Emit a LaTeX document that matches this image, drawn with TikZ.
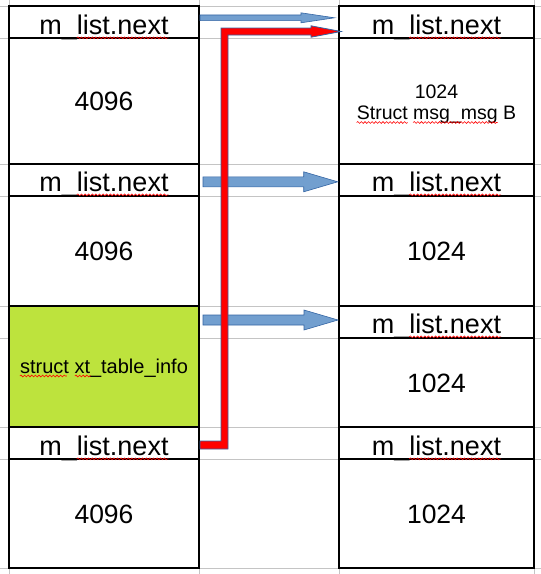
\documentclass[tikz,border=0pt]{standalone}
\usepackage{fontspec}
\setmainfont{Liberation Sans}
\usetikzlibrary{calc,decorations.pathmorphing}
\definecolor{gridgray}{RGB}{196,196,196}
\definecolor{limegreen}{RGB}{189,227,61}
\definecolor{afill}{RGB}{114,159,207}
\definecolor{aline}{RGB}{52,101,164}
\newcommand\blkarrow[5]{%
  \draw[barrow] let \p1=(#1), \p2=(#2) in
    (\x1,\y2+#3) -- (\x2-#5,\y2+#3) -- (\x2-#5,\y2+#4) -- (\x2,\y2)
    -- (\x2-#5,\y2-#4) -- (\x2-#5,\y2-#3) -- (\x1,\y2-#3) -- cycle;}
\begin{document}
\begin{tikzpicture}[x=1pt,y=-1pt,
  gridline/.style={draw=gridgray,line width=0.8pt},
  cellbox/.style={draw=black,line width=1.1pt,inner sep=0pt,minimum height=#1},
  lcell/.style={cellbox=#1,minimum width=190pt},
  rcell/.style={cellbox=#1,minimum width=195pt},
  lbl/.style={inner sep=0pt,anchor=base,text=black},
  bigtxt/.style={lbl,font=\fontsize{27}{30}\selectfont},
  numtxt/.style={lbl,font=\fontsize{26.5}{30}\selectfont},
  smalltxt/.style={lbl,font=\fontsize{19.5}{22}\selectfont},
  midtxt/.style={lbl,font=\fontsize{20}{23}\selectfont},
  wavy/.style={draw=red,line width=0.6pt,decorate,decoration={snake,amplitude=0.9pt,segment length=3.6pt}},
  barrow/.style={fill=afill,draw=aline,line width=0.6pt},
  redconn/.style={fill=red,draw=aline,line width=0.8pt,line join=miter}]
\useasboundingbox (0,0) rectangle (541,574);
\fill[white] (0,0) rectangle (541,574);
% spreadsheet grid
\foreach \gx in {9,199,339,534} \draw[gridline] (\gx,0) -- (\gx,574);
\foreach \gy in {6,38,164,196,306,338,427,459,568} \draw[gridline] (0,\gy) -- (541,\gy);
% left column
\node[lcell=32pt] (l1) at (104,22) {};
\node[lcell=126pt] (l2) at (104,101) {};
\node[lcell=32pt] (l3) at (104,180) {};
\node[lcell=110pt] (l4) at (104,251) {};
\node[lcell=121pt,fill=limegreen] (l5) at (104,366.5) {};
\node[lcell=32pt] (l6) at (104,443) {};
\node[lcell=109pt] (l7) at (104,513.5) {};
% right column
\node[rcell=32pt] (r1) at (436.5,22) {};
\node[rcell=126pt] (r2) at (436.5,101) {};
\node[rcell=32pt] (r3) at (436.5,180) {};
\node[rcell=110pt] (r4) at (436.5,251) {};
\node[rcell=32pt] (r5) at (436.5,322) {};
\node[rcell=89pt] (r6) at (436.5,382.5) {};
\node[rcell=32pt] (r7) at (436.5,443) {};
\node[rcell=109pt] (r8) at (436.5,513.5) {};
% labels
\node[bigtxt] (t1) at ($(l1.south)+(0,-4.5)$) {m\_list.next};
\node[bigtxt] (t3) at ($(l3.south)+(0,-5.5)$) {m\_list.next};
\node[bigtxt] (t6) at ($(l6.south)+(0,-4.5)$) {m\_list.next};
\node[numtxt] (t2) at ($(l2.center)+(0,9.5)$) {4096};
\node[numtxt] (t4) at ($(l4.center)+(0,9.5)$) {4096};
\node[numtxt] (t7) at ($(l7.center)+(0,9.5)$) {4096};
\node[midtxt] (t5) at ($(l5.center)+(0,7)$) {struct xt\_table\_info};
\node[bigtxt] (s1) at ($(r1.south)+(0,-4.5)$) {m\_list.next};
\node[bigtxt] (s3) at ($(r3.south)+(0,-5.5)$) {m\_list.next};
\node[bigtxt] (s5) at ($(r5.south)+(0,-5.5)$) {m\_list.next};
\node[bigtxt] (s7) at ($(r7.south)+(0,-4.5)$) {m\_list.next};
\node[smalltxt] (s2a) at ($(r2.center)+(0,-3)$) {1024};
\node[smalltxt] (s2b) at ($(r2.center)+(0,18)$) {Struct msg\_msg B};
\node[numtxt] (s4) at ($(r4.center)+(0,9.5)$) {1024};
\node[numtxt] (s6) at ($(r6.center)+(0,9.5)$) {1024};
\node[numtxt] (s8) at ($(r8.center)+(0,9.5)$) {1024};
% spell-check underlines
\foreach \n in {t1,t3,t6,s1,s3,s5,s7}
  \draw[wavy] ($(\n.base west)+(37.5,3.8)$) -- ($(\n.base east)+(0,3.8)$);
\draw[wavy] ($(s2b.base west)+(0,3.5)$) -- ++(51,0);
\draw[wavy] ($(s2b.base west)+(56.5,3.5)$) -- ++(84.5,0);
\draw[wavy] ($(t5.base west)+(0,2.5)$) -- ++(47,0);
\draw[wavy] ($(t5.base west)+(55,2.5)$) -- ++(16,0);
% blue block arrows
\coordinate (a1s) at (200,17.8);
\coordinate (a1e) at (334.5,17.8);
\coordinate (a2s) at (203,181.8);
\coordinate (a2e) at (337.7,181.8);
\coordinate (a3s) at (203,320);
\coordinate (a3e) at (338,320);
\blkarrow{a1s}{a1e}{2.85pt}{5pt}{33.5pt}
\blkarrow{a2s}{a2e}{5pt}{10pt}{34pt}
\blkarrow{a3s}{a3e}{5pt}{10pt}{34pt}
% red elbow connector
\coordinate (rs) at (200,445);
\coordinate (rc) at (224.5,445);
\coordinate (re) at (341,31.5);
\draw[redconn] let \p1=(rs), \p2=(rc), \p3=(re) in
  (\x1,\y1+4pt) -- (\x2-3.5pt,\y1+4pt) -- (\x2-3.5pt,\y3+3.5pt)
  -- (\x3-30pt,\y3+3.5pt) -- (\x3-30pt,\y3+5.7pt) -- (\x3,\y3)
  -- (\x3-30pt,\y3-5.7pt) -- (\x3-30pt,\y3-3.5pt) -- (\x2+3.5pt,\y3-3.5pt)
  -- (\x2+3.5pt,\y1-4pt) -- (\x1,\y1-4pt) -- cycle;
\end{tikzpicture}
\end{document}
